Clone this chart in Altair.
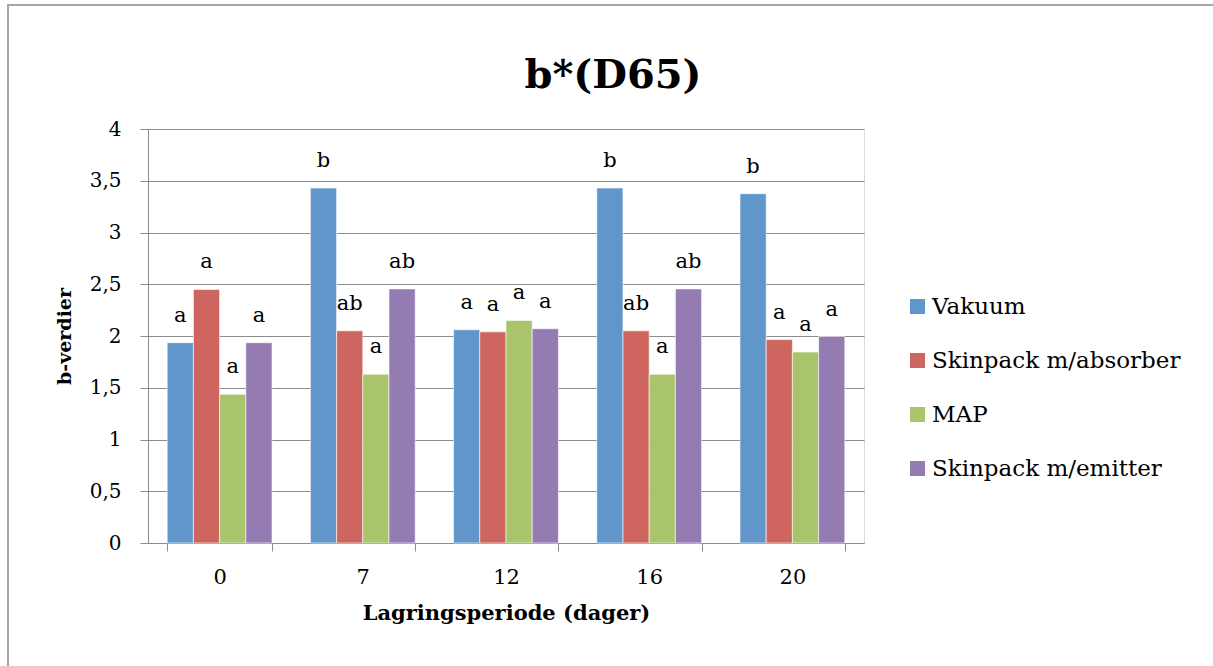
import altair as alt
import pandas as pd

categories = ["0", "7", "12", "16", "20"]
series = ["Vakuum", "Skinpack m/absorber", "MAP", "Skinpack m/emitter"]
colors = ["#6096CA", "#CE665F", "#AAC46B", "#947BB2"]

vakuum = [1.935, 3.43, 2.06, 3.43, 3.375]
skin_abs = [2.45, 2.05, 2.04, 2.05, 1.965]
map_vals = [1.437, 1.63, 2.15, 1.63, 1.845]
skin_emit = [1.935, 2.455, 2.07, 2.455, 1.995]

lab_vakuum = ["a", "b", "a", "b", "b"]
lab_skin_abs = ["a", "ab", "a", "ab", "a"]
lab_map = ["a", "a", "a", "a", "a"]
lab_skin_emit = ["a", "ab", "a", "ab", "a"]

vals = [vakuum, skin_abs, map_vals, skin_emit]
labs = [lab_vakuum, lab_skin_abs, lab_map, lab_skin_emit]

rows = []
for s, v, l in zip(series, vals, labs):
    for c, vv, ll in zip(categories, v, l):
        rows.append({"dag": c, "serie": s, "verdi": vv, "bokstav": ll})
df = pd.DataFrame(rows)

FONT = "DejaVu Serif"
GRAY = "#8C8C8C"
W, H = 716, 414

x_enc = alt.X(
    "dag:N",
    sort=categories,
    scale=alt.Scale(paddingInner=0.268, paddingOuter=0.134),
    axis=alt.Axis(
        title="Lagringsperiode (dager)",
        labelAngle=0,
        tickBand="extent",
        tickSize=8,
        tickColor=GRAY,
        domainColor=GRAY,
        labelFontSize=21,
        labelPadding=15,
        labelFont=FONT,
        labelColor="black",
        titleFont=FONT,
        titleFontSize=21,
        titleFontWeight="bold",
        titleColor="black",
        titleBaseline="middle",
        titleY=70,
        grid=False,
    ),
)
xoff = alt.XOffset("serie:N", sort=series, scale=alt.Scale(paddingInner=0, paddingOuter=0))
y_enc = alt.Y(
    "verdi:Q",
    scale=alt.Scale(domain=[0, 4]),
    axis=alt.Axis(
        title="b-verdier",
        values=[0, 0.5, 1, 1.5, 2, 2.5, 3, 3.5, 4],
        labelExpr="replace(format(datum.value, '~g'), '.', ',')",
        tickSize=8,
        tickColor=GRAY,
        domainColor=GRAY,
        gridColor=GRAY,
        labelFontSize=20,
        labelPadding=19,
        labelFont=FONT,
        labelColor="black",
        titleFont=FONT,
        titleFontSize=19,
        titleFontWeight="bold",
        titleColor="black",
        titleBaseline="middle",
        titleAlign="center",
        titleAngle=270,
        titleX=-84,
        titleY=H / 2,
    ),
)

bars = alt.Chart(df).mark_bar(stroke="white", strokeWidth=0.6).encode(
    x=x_enc,
    xOffset=xoff,
    y=y_enc,
    color=alt.Color(
        "serie:N",
        sort=series,
        scale=alt.Scale(domain=series, range=colors),
        legend=alt.Legend(
            title=None,
            orient="none",
            legendX=758,
            legendY=166,
            symbolType="square",
            symbolSize=225,
            symbolStrokeWidth=0,
            labelFont=FONT,
            labelFontSize=23,
            labelColor="black",
            labelOffset=3,
            labelLimit=400,
            rowPadding=30,
            padding=0,
        ),
    ),
)

text = alt.Chart(df).mark_text(
    dy=-27, baseline="middle", align="center", font=FONT, fontSize=21, color="black"
).encode(
    x=alt.X("dag:N", sort=categories),
    xOffset=alt.XOffset("serie:N", sort=series),
    y=alt.Y("verdi:Q"),
    text="bokstav:N",
)

frame = alt.Chart(pd.DataFrame({"k": [0]})).mark_rect(
    fillOpacity=0, stroke="#A6A6A6", strokeWidth=2
).encode(
    x=alt.value(8 - 148),
    x2=alt.value(1213),
    y=alt.value(5 - 129),
    y2=alt.value(700),
)

chart = alt.layer(frame, bars, text).properties(
    width=W,
    height=H,
    autosize=alt.AutoSizeParams(type="none"),
    padding={"left": 148, "top": 129, "right": 1213 - 148 - W, "bottom": 666 - 129 - H},
    title=alt.TitleParams(
        "b*(D65)",
        font=FONT,
        fontSize=40,
        fontWeight="bold",
        color="black",
        anchor="middle",
        frame="group",
        baseline="alphabetic",
        dx=107,
        dy=124,
        offset=0,
    ),
).configure_view(stroke=None).configure(background="white")

chart.save("out.html", embed_options={"renderer": "svg", "actions": False})
